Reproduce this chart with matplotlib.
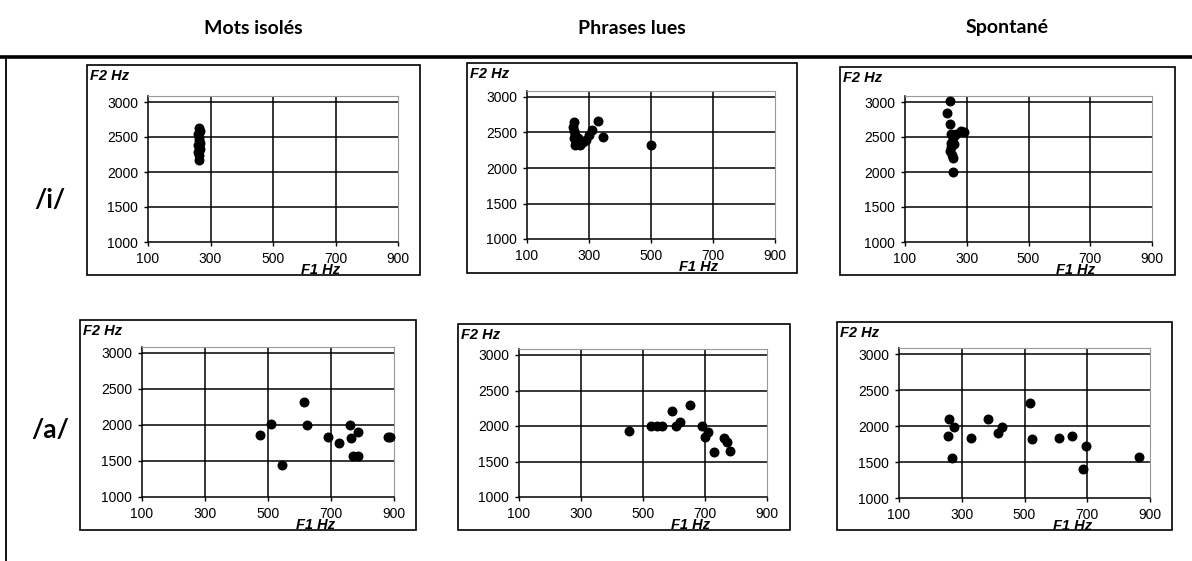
import matplotlib.pyplot as plt
from matplotlib.patches import Rectangle
from matplotlib.lines import Line2D

W, H = 1192, 561

headers = ["Mots isolés", "Phrases lues", "Spontané"]
vowels = ["/i/", "/a/"]
f1_ticks = [100, 300, 500, 700, 900]
f2_ticks = [1000, 1500, 2000, 2500, 3000]

# /i/
i_mots_f1 = [262, 265, 260, 264, 262, 266, 260, 263, 265, 261, 264, 263]
i_mots_f2 = [2630, 2580, 2540, 2500, 2460, 2420, 2390, 2360, 2330, 2290, 2250, 2170]
i_phr_f1 = [250, 248, 252, 255, 250, 258, 262, 270, 280, 290, 300, 310, 330, 345, 500, 255, 265, 275]
i_phr_f2 = [2650, 2580, 2520, 2470, 2420, 2380, 2340, 2330, 2360, 2400, 2470, 2540, 2660, 2440, 2320, 2330, 2420, 2380]
i_spo_f1 = [245, 235, 245, 250, 255, 250, 248, 245, 252, 255, 265, 280, 292, 255, 258]
i_spo_f2 = [3020, 2850, 2690, 2540, 2480, 2420, 2360, 2300, 2250, 2200, 2550, 2580, 2570, 2000, 2400]
# /a/
a_mots_f1 = [475, 510, 545, 615, 625, 690, 725, 760, 765, 770, 785, 785, 880, 888]
a_mots_f2 = [1860, 2020, 1450, 2320, 2000, 1840, 1750, 2000, 1820, 1570, 1570, 1900, 1840, 1840]
a_phr_f1 = [455, 525, 545, 560, 595, 605, 620, 650, 690, 700, 710, 730, 760, 770, 780]
a_phr_f2 = [1930, 2000, 2000, 2000, 2210, 2000, 2060, 2300, 2000, 1850, 1920, 1640, 1830, 1780, 1650]
a_spo_f1 = [259, 275, 256, 268, 329, 383, 414, 427, 516, 525, 610, 650, 695, 688, 865]
a_spo_f2 = [2097, 1990, 1860, 1555, 1833, 2097, 1903, 1990, 2320, 1820, 1840, 1860, 1720, 1400, 1570]

series = [[(i_mots_f1, i_mots_f2), (i_phr_f1, i_phr_f2), (i_spo_f1, i_spo_f2)],
          [(a_mots_f1, a_mots_f2), (a_phr_f1, a_phr_f2), (a_spo_f1, a_spo_f2)]]

# pixel layout: box (x0, y0, x1, y1), plot (left, y of 3000, right, y of 1000)
boxes = [[(87, 65, 420, 275), (467, 63, 797, 273), (840, 67, 1175, 275)],
         [(80, 320, 416, 530), (458, 324, 790, 530), (837, 322, 1172, 530)]]
plots = [[(148, 102, 398, 242), (527, 97, 775, 239), (905, 102, 1152, 242)],
         [(142, 353, 394, 497), (519, 355, 767, 497), (899, 354, 1150, 498)]]

header_x = [253, 632, 1007]
vowel_y = [200, 430]

fig = plt.figure(figsize=(W / 100, H / 100), dpi=100)


def fx(x):
    return x / W


def fy(y):
    return 1 - y / H


# table lines
fig.add_artist(Line2D([0, 1], [fy(57), fy(57)], color="black", lw=2.6))
fig.add_artist(Line2D([fx(6), fx(6)], [fy(57), 0], color="black", lw=1.3))

for j, h in enumerate(headers):
    fig.text(fx(header_x[j]), fy(28), h, ha="center", va="center",
             fontsize=14, fontweight="bold", family="Lato")
for i, v in enumerate(vowels):
    fig.text(fx(50), fy(vowel_y[i]), v, ha="center", va="center",
             fontsize=19, fontweight="bold", family="Lato")

for r in range(2):
    for c in range(3):
        bx0, by0, bx1, by1 = boxes[r][c]
        fig.add_artist(Rectangle((fx(bx0), fy(by1)), fx(bx1 - bx0), (by1 - by0) / H,
                                 fill=False, ec="black", lw=1.2))
        px0, p3000, px1, p1000 = plots[r][c]
        step = (p1000 - p3000) / 4
        ptop = p3000 - 6
        ymax = 3000 + 6 / step * 500
        ax = fig.add_axes([fx(px0), fy(p1000), fx(px1 - px0), (p1000 - ptop) / H])
        f1, f2 = series[r][c]
        ax.scatter(f1, f2, s=38, color="black", zorder=3, clip_on=False)
        ax.set_xlim(100, 900)
        ax.set_ylim(1000, ymax)
        ax.set_xticks(f1_ticks)
        ax.set_yticks(f2_ticks)
        for x in f1_ticks[1:-1]:
            ax.axvline(x, color="black", lw=1.1, zorder=1)
        for y in f2_ticks[1:]:
            ax.axhline(y, color="black", lw=1.1, zorder=1)
        for s in ["top", "right"]:
            ax.spines[s].set_color("#999999")
        for s in ["left", "bottom"]:
            ax.spines[s].set_color("black")
            ax.spines[s].set_linewidth(1.1)
        ax.tick_params(direction="out", length=3, width=1, color="black",
                       labelsize=10, pad=4)
        for lab in ax.get_xticklabels() + ax.get_yticklabels():
            lab.set_family("Liberation Sans")
        fig.text(fx(bx0 + 3), fy(by0 + 11), "F2 Hz", fontsize=10.5, fontweight="bold",
                 fontstyle="italic", family="Liberation Sans", va="center")
        f1x = px0 + (px1 - px0) * 0.69
        fig.text(fx(f1x), fy(p1000 + 28), "F1 Hz", fontsize=10.5, fontweight="bold",
                 fontstyle="italic", family="Liberation Sans", ha="center", va="center")

fig.savefig("out.png", dpi=100)
